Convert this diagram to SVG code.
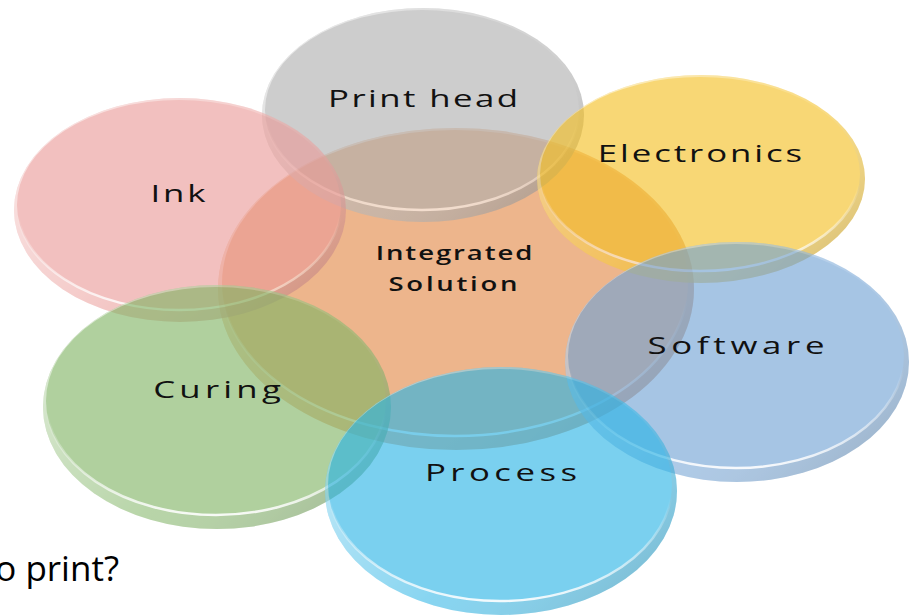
<svg xmlns="http://www.w3.org/2000/svg" width="913" height="615" viewBox="0 0 913 615">
<style>
.disc{opacity:0.62}
.shade{fill:url(#rimShade)}
.face{stroke:url(#rimLine);stroke-width:2.5}
.lbl{font-family:"Open Sans","DejaVu Sans",sans-serif;font-size:24px;font-weight:500;fill:#111;text-anchor:middle}
.ctr{font-size:19px;font-weight:600}
.cap{font-family:"Open Sans","Liberation Sans",sans-serif;font-size:35px;fill:#000;text-anchor:end}
</style>
<defs>
<linearGradient id="rimShade" x1="0" y1="0.3" x2="1" y2="1">
<stop offset="0" stop-color="#fff" stop-opacity="0.55"/>
<stop offset="0.5" stop-color="#fff" stop-opacity="0.1"/>
<stop offset="1" stop-color="#000" stop-opacity="0.3"/>
</linearGradient>
<linearGradient id="rimLine" x1="0" y1="0" x2="0" y2="1">
<stop offset="0.55" stop-color="#fff" stop-opacity="0"/>
<stop offset="1" stop-color="#fff" stop-opacity="0.9"/>
</linearGradient>
</defs>
<rect width="913" height="615" fill="#fff"/>

<g id="center" class="disc">
<ellipse cx="456" cy="289" rx="238" ry="161" fill="#e38946"/>
<ellipse class="shade" cx="456" cy="289" rx="238" ry="161"/>
<ellipse class="face" cx="455" cy="283" rx="233" ry="153" fill="#e38946"/>
</g>
<g id="printhead" class="disc">
<ellipse cx="423" cy="115" rx="161" ry="107" fill="#afafaf"/>
<ellipse class="shade" cx="423" cy="115" rx="161" ry="107"/>
<ellipse class="face" cx="422" cy="110" rx="157" ry="100" fill="#afafaf"/>
</g>
<g id="ink" class="disc">
<ellipse cx="180" cy="210" rx="166" ry="112" fill="#eb9b98"/>
<ellipse class="shade" cx="180" cy="210" rx="166" ry="112"/>
<ellipse class="face" cx="179" cy="205" rx="162" ry="105" fill="#eb9b98"/>
</g>
<g id="electronics" class="disc">
<ellipse cx="701" cy="179" rx="164" ry="104" fill="#f5c021"/>
<ellipse class="shade" cx="701" cy="179" rx="164" ry="104"/>
<ellipse class="face" cx="700" cy="174" rx="160" ry="97" fill="#f5c021"/>
</g>
<g id="software" class="disc">
<ellipse cx="737" cy="362" rx="172" ry="120" fill="#70a2d5"/>
<ellipse class="shade" cx="737" cy="362" rx="172" ry="120"/>
<ellipse class="face" cx="736" cy="356" rx="168" ry="112" fill="#70a2d5"/>
</g>
<g id="curing" class="disc">
<ellipse cx="217" cy="407" rx="174" ry="122" fill="#80b464"/>
<ellipse class="shade" cx="217" cy="407" rx="174" ry="122"/>
<ellipse class="face" cx="216" cy="401" rx="170" ry="114" fill="#80b464"/>
</g>
<g id="process" class="disc">
<ellipse cx="501" cy="491" rx="176" ry="124" fill="#2ab4e6"/>
<ellipse class="shade" cx="501" cy="491" rx="176" ry="124"/>
<ellipse class="face" cx="500" cy="485" rx="172" ry="116" fill="#2ab4e6"/>
</g>

<g id="labels">
<text class="lbl" transform="translate(423,107) scale(1.45,1)" textLength="131" lengthAdjust="spacing">Print head</text>
<text class="lbl" transform="translate(700,162) scale(1.45,1)" textLength="141" lengthAdjust="spacing">Electronics</text>
<text class="lbl" transform="translate(178,202) scale(1.45,1)" textLength="38" lengthAdjust="spacing">Ink</text>
<text class="lbl ctr" transform="translate(454,260) scale(1.45,1)" textLength="108" lengthAdjust="spacing">Integrated</text>
<text class="lbl ctr" transform="translate(453,291) scale(1.45,1)" textLength="89" lengthAdjust="spacing">Solution</text>
<text class="lbl" transform="translate(736,354) scale(1.45,1)" textLength="122" lengthAdjust="spacing">Software</text>
<text class="lbl" transform="translate(217,398) scale(1.45,1)" textLength="88" lengthAdjust="spacing">Curing</text>
<text class="lbl" transform="translate(501,481) scale(1.45,1)" textLength="105" lengthAdjust="spacing">Process</text>
</g>
<text class="cap" x="119" y="581">o print?</text>
</svg>
